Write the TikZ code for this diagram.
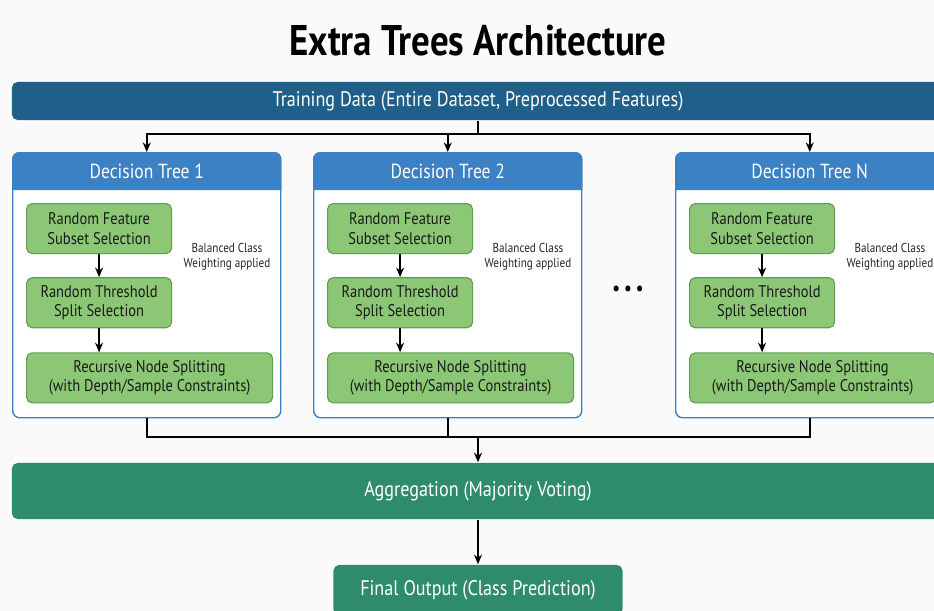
\documentclass[tikz,border=0pt]{standalone}
\usepackage{fontspec}
\setmainfont{PT Sans}[FakeStretch=0.86]
\usetikzlibrary{arrows.meta,positioning,calc}
\definecolor{databar}{RGB}{30,96,137}
\definecolor{treeblue}{RGB}{59,129,196}
\definecolor{stepgreen}{RGB}{140,199,118}
\definecolor{stepedge}{RGB}{96,158,80}
\definecolor{aggteal}{RGB}{46,139,107}
\definecolor{bgwhite}{RGB}{250,250,250}
\tikzset{
    every node/.style={color=black, font=\fontsize{12}{14}\selectfont},
    every path/.style={color=black}
}

\begin{document}
\begin{tikzpicture}[
        x=0.025cm, y=-0.025cm,
        line width=1.1pt,
        >={Stealth[length=2.4mm, width=2mm]},
        bar/.style={rectangle, rounded corners=4pt, text=white, minimum height=0.95cm, minimum width=23.3cm, font=\fontsize{15}{17}\selectfont},
        treebox/.style={rectangle, rounded corners=5pt, draw=treeblue, line width=1pt, fill=white, minimum width=6.7cm, minimum height=6.625cm},
        stepbox/.style={rectangle, rounded corners=4pt, draw=stepedge, line width=0.8pt, fill=stepgreen, align=center, minimum width=3.625cm, minimum height=1.25cm, inner sep=2pt, text=black!90},
        widebox/.style={stepbox, minimum width=6.15cm},
        note/.style={align=center, font=\fontsize{9.2}{11}\selectfont, text=black!85}
    ]
    \useasboundingbox[fill=bgwhite] (0,0) rectangle (934,611);

    % Title
    \node[font=\bfseries\fontsize{30.5}{34}\selectfont] (title) at (478,41) {Extra Trees Architecture};

    % Training data
    \node[bar, fill=databar] (data) at (478,101) {Training Data (Entire Dataset, Preprocessed Features)};

    % Decision trees
    \foreach \x/\n [count=\i] in {12/1, 313/2, 675/N} {
        \node[treebox, anchor=north west] (tree\i) at (\x,152) {};
        \fill[treeblue] ($(tree\i.north west)+(0,38)$) [rounded corners=5pt] -- (tree\i.north west)
            -- (tree\i.north east) [sharp corners] -- ($(tree\i.north east)+(0,38)$) -- cycle;
        \node[text=white, font=\fontsize{14.5}{16}\selectfont] (head\i) at ($(tree\i.north)+(0,19)$) {Decision Tree \n};
        \node[stepbox, anchor=north west] (feat\i) at ($(tree\i.north west)+(14,51)$) {Random Feature\\Subset Selection};
        \node[stepbox, below=0.575cm of feat\i] (thresh\i) {Random Threshold\\Split Selection};
        \node[widebox, below right=0.6cm and 0cm of thresh\i.south west] (split\i) {Recursive Node Splitting\\(with Depth/Sample Constraints)};
        \node[note] (weight\i) at ($(tree\i.north west)+(215,105)$) {Balanced Class\\Weighting applied};
        \draw[->] (feat\i) -- (thresh\i);
        \draw[->] (thresh\i) -- (thresh\i |- split\i.north);
    }

    \node[font=\fontsize{15}{17}\selectfont] (dots) at (628,291) {\textbullet\,\textbullet\,\textbullet};

    % Aggregation and output
    \node[bar, fill=aggteal, minimum height=1.4cm] (agg) at (478,491) {Aggregation (Majority Voting)};
    \node[bar, fill=aggteal, minimum width=7.225cm, minimum height=1.25cm] (final) at (478,590) {Final Output (Class Prediction)};
    \coordinate (join) at ($(agg.north)+(0,-25)$);

    % Connections
    \foreach \i in {1,2,3} {
        \draw[->] (data.south) -- ++(0,13) -| (tree\i.north);
        \draw (tree\i.south) |- (join);
    }
    \draw[->] (join) -- (agg.north);
    \draw[->] (agg.south) -- (final.north);

\end{tikzpicture}
\end{document}
